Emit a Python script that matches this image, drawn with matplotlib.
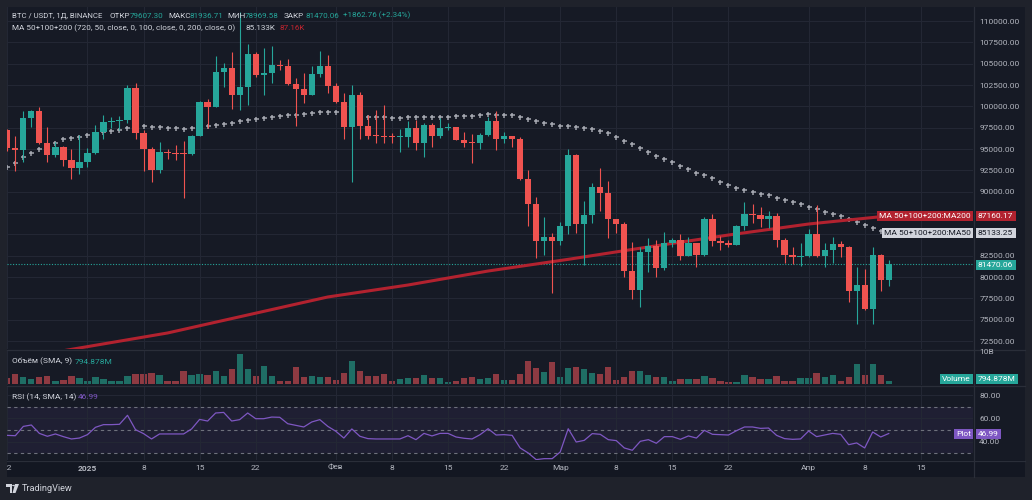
import numpy as np
import matplotlib
matplotlib.use("Agg")
import matplotlib.pyplot as plt
from matplotlib.lines import Line2D
from matplotlib.patches import Rectangle, Polygon, Circle
from matplotlib.transforms import Bbox

plt.rcParams['font.family'] = ['Roboto', 'DejaVu Sans']

W, H = 1032, 500

# ---- data (daily, 22 Dec 2024 .. 11 Apr 2025) ----
opens = [97227, 95156, 94844, 98594, 99453, 95743, 94297, 95273, 93711, 92735,
         93516, 94532, 96953, 98164, 98250, 98360, 102187, 96914, 95000, 92540,
         94688, 94532, 94450, 94380, 96563, 100508, 99961, 104063, 104531, 101289,
         102266, 106172, 103672, 103946, 104844, 104766, 102578, 102031, 101289, 103750,
         104727, 102422, 100547, 97618, 101329, 97735, 96563, 96485, 96407, 96368,
         96446, 97423, 95743, 97853, 96563, 97462, 97579, 96056, 95743, 95665,
         96642, 98282, 96133, 96524, 96172, 91485, 88594, 84181, 84688, 84259,
         86017, 94258, 86173, 87228, 90547, 89883, 86759, 86173, 80665, 78517,
         82892, 83673, 81017, 83946, 84298, 82501, 83946, 82618, 86798, 84181,
         84025, 83790, 86017, 87423, 87267, 86837, 87150, 84337, 82618, 82384,
         82501, 85079, 82461, 83164, 83828, 83477, 78360, 79063, 76212, 82579,
         79607.30]
highs = [97400, 96524, 99453, 99570, 99961, 97539, 95860, 95300, 94999, 96641,
         95156, 97813, 98985, 98711, 98867, 102461, 102695, 97227, 95273, 95820,
         95000, 95469, 95938, 96641, 100625, 100820, 105898, 105039, 106406, 111000,
         107266, 106406, 106875, 107109, 105430, 105508, 103281, 103867, 104727, 106484,
         106016, 102696, 101524, 102501, 101719, 98985, 99571, 100157, 96915, 97306,
         98282, 98399, 98009, 98009, 98595, 98009, 97618, 97032, 96759, 96915,
         98790, 99453, 96953, 96524, 96445, 92540, 89415, 87071, 85118, 86485,
         94961, 94415, 88907, 90977, 92735, 91251, 86798, 86446, 84063, 83556,
         84532, 84298, 85274, 84610, 85040, 84727, 84025, 86993, 87384, 84806,
         84337, 86134, 88751, 88516, 88243, 87735, 87462, 84571, 83556, 83946,
         85587, 88438, 83945, 84649, 84219, 83633, 81211, 80899, 83555, 82696,
         81936.71]
lows = [94800, 92461, 93516, 97617, 95586, 93516, 94102, 93008, 91524, 92032,
        92891, 94375, 96133, 97500, 97227, 98008, 96211, 92461, 91172, 92227,
        93829, 93712, 89220, 94300, 96563, 97422, 99961, 102305, 99649, 99570,
        100156, 103399, 101289, 102774, 104258, 102500, 97735, 100352, 101289, 103399,
        101602, 100352, 96134, 91173, 96134, 96173, 95665, 95665, 95665, 94689,
        95274, 94884, 94103, 95196, 96251, 97227, 96056, 95196, 93400, 95001,
        96524, 94883, 95742, 95274, 91368, 85977, 82228, 82618, 78165, 83751,
        85001, 85118, 81407, 86290, 87774, 84610, 85196, 79962, 77423, 76524,
        80626, 79962, 80821, 83556, 81993, 82462, 81134, 82501, 83673, 83165,
        83556, 83712, 85509, 86290, 85899, 85743, 83556, 81603, 81525, 81290,
        82384, 82305, 81211, 81602, 82305, 77110, 74454, 76100, 74493, 78399,
        78969.58]
closes = [95156, 94844, 98594, 99453, 95743, 94297, 95273, 93711, 92735, 93516,
          94532, 96953, 98164, 98250, 98360, 102187, 96914, 95000, 92540, 94688,
          94532, 94450, 94380, 96563, 100508, 99961, 104063, 104531, 101289, 102266,
          106172, 103672, 103946, 104844, 104766, 102578, 102031, 101289, 103750, 104727,
          102422, 100547, 97618, 101329, 97735, 96563, 96485, 96407, 96368, 96446,
          97423, 95743, 97853, 96563, 97462, 97579, 96056, 95743, 95665, 96642,
          98282, 96133, 96524, 96172, 91485, 88594, 84181, 84688, 84259, 86017,
          94258, 86173, 87228, 90547, 89883, 86759, 86173, 80665, 78517, 82892,
          83673, 81017, 83946, 84298, 82501, 83946, 82618, 86798, 84181, 84025,
          83790, 86017, 87423, 87267, 86837, 87150, 84337, 82618, 82384, 82501,
          85079, 82461, 83164, 83828, 83477, 78360, 79063, 76212, 82579, 79607.30,
          81470.06]

# volume, billions USDT
volume = [1.51, 2.57, 1.93, 1.25, 1.78, 2.20, 0.80, 1.14, 2.20, 1.59,
          0.80, 1.78, 1.33, 0.80, 0.80, 2.12, 2.65, 2.65, 2.84, 2.46,
          0.72, 0.80, 3.45, 2.31, 2.57, 2.31, 3.45, 2.12, 3.90, 7.95,
          4.05, 2.04, 4.77, 2.04, 0.87, 0.87, 4.43, 1.86, 2.04, 1.78,
          1.93, 1.14, 2.99, 6.17, 3.45, 2.20, 2.04, 2.65, 0.87, 1.25,
          1.67, 1.59, 2.39, 1.59, 1.51, 0.61, 0.80, 1.51, 1.93, 1.40,
          1.51, 2.73, 0.98, 0.98, 2.57, 6.10, 4.24, 3.18, 5.83, 1.86,
          4.24, 4.58, 4.05, 2.92, 2.65, 4.43, 0.98, 1.86, 3.37, 3.45,
          2.31, 1.93, 1.93, 0.80, 1.33, 1.33, 1.33, 2.12, 1.67, 0.87,
          0.53, 0.61, 2.31, 1.78, 1.40, 1.33, 2.04, 0.87, 0.80, 1.51,
          1.51, 2.99, 1.93, 2.39, 0.80, 1.93, 5.30, 2.39, 5.22, 2.31,
          0.795]

rsi = [45.4, 45.1, 53.1, 54.3, 47.1, 44.6, 46.6, 44.3, 42.3, 43.1,
       46.0, 52.3, 54.6, 54.6, 54.9, 62.6, 50.3, 46.9, 42.3, 46.6,
       46.6, 46.6, 46.6, 50.9, 59.1, 57.7, 64.6, 65.1, 57.7, 58.9,
       64.6, 59.7, 59.7, 61.1, 60.9, 55.4, 54.0, 52.6, 56.9, 58.9,
       53.1, 48.9, 43.1, 50.9, 44.6, 42.6, 42.3, 42.3, 42.3, 42.3,
       45.1, 41.7, 47.1, 44.9, 47.1, 47.1, 44.0, 42.9, 42.3, 46.0,
       51.1, 45.7, 46.0, 45.4, 34.6, 30.3, 24.6, 25.4, 25.4, 31.1,
       51.1, 39.7, 41.1, 46.9, 46.3, 41.7, 40.9, 34.6, 32.6, 40.3,
       41.7, 38.6, 44.3, 44.3, 42.0, 44.9, 43.1, 49.7, 46.3, 46.0,
       45.7, 49.4, 52.6, 52.6, 51.4, 51.7, 45.4, 42.6, 42.0, 42.3,
       49.1, 44.3, 45.7, 47.1, 46.3, 37.4, 38.9, 34.6, 48.3, 44.0,
       46.99]

ma50 = [92930, 93399, 94024, 94571, 95039, 95400, 95742, 96133, 96328, 96445,
        96602, 96800, 96950, 97110, 97227, 97500, 97600, 97695, 97617, 97539,
        97500, 97422, 97383, 97461, 97580, 97696, 97813, 97969, 98086, 98243,
        98438, 98555, 98672, 98750, 98868, 98985, 99024, 99063, 99180, 99297,
        99336, 99297, 99200, 99100, 98950, 98790, 98751, 98712, 98673, 98673,
        98712, 98751, 98712, 98712, 98751, 98790, 98829, 98868, 98907, 98985,
        99050, 98984, 98984, 98945, 98789, 98516, 98281, 98086, 97891, 97734,
        97734, 97617, 97422, 97305, 97110, 96836, 96445, 95977, 95547, 95156,
        94688, 94219, 93828, 93438, 93008, 92618, 92227, 91915, 91563, 91173,
        90782, 90469, 90196, 90001, 89727, 89571, 89298, 89063, 88790, 88516,
        88243, 87969, 87656, 87422, 87148, 86758, 86406, 86094, 85781, 85430,
        85133.25]

ma200_idx = [7, 20, 30, 40, 50, 60, 70, 80, 90, 100, 110]
ma200 = [71360, 73440, 75550, 77660, 79060, 80700, 82070, 83520, 84920, 86210, 87160.17]

date_ticks = [0, 10, 17, 24, 31, 41, 48, 55, 62, 69, 76, 83, 90, 100, 107, 114]
date_labels = ['22', '2025', '8', '15', '22', 'Фев', '8', '15', '22', 'Мар',
               '8', '15', '22', 'Апр', '8', '15']
price_ticks = np.arange(72500, 110001, 2500)
hidden_ticks = (85000, 87500)  # covered by the MA tags on the axis

# ---- colours ----
BG = '#161a25'
FRAME = '#1f222b'
GRID = '#232734'
SEP = '#2a2e39'
TXT = '#b2b5be'
HEAD = '#d1d4dc'
UP = '#26a69a'
DN = '#ef5350'
UP_VOL = '#1f6e65'
DN_VOL = '#8e3a42'
MA200_C = '#b2222f'
MA50_C = '#a3a6af'
RSI_C = '#7e57c2'


def rect(x0, y0, x1, y1):
    return [x0 / W, 1 - y1 / H, (x1 - x0) / W, (y1 - y0) / H]


fig = plt.figure(figsize=(W / 100, H / 100), dpi=100, facecolor=FRAME)

# chart background (panes + axes areas)
fig.add_artist(Rectangle((7 / W, 1 - 477 / H), (1025 - 7) / W, (477 - 7) / H,
                         transform=fig.transFigure, facecolor=BG, edgecolor='none', zorder=0))
fig.add_artist(Rectangle((7 / W, 1 - 477 / H), (1025 - 7) / W, (477 - 460) / H,
                         transform=fig.transFigure, facecolor='#131722', edgecolor='none', zorder=0))

PX0, PX1 = 7, 973
MAIN_BOT = 349
VOL_BOT = 385
ax = fig.add_axes(rect(PX0, 7, PX1, MAIN_BOT))
axv = fig.add_axes(rect(PX0, MAIN_BOT + 1, PX1, VOL_BOT), sharex=ax)
axr = fig.add_axes(rect(PX0, VOL_BOT + 1, PX1, 460), sharex=ax)

ppx = 37500 / 320.0  # price per pixel
for a in (ax, axv, axr):
    a.set_facecolor('none')
    for s in a.spines.values():
        s.set_visible(False)
    a.set_xticks(date_ticks)
    a.grid(True, axis='x', color=GRID, lw=0.8)
    a.tick_params(axis='both', length=0, colors=TXT, labelsize=6)

x_left = (PX0 - 7.3) / 8.013
x_right = (PX1 - 7.3) / 8.013
ax.set_xlim(x_left, x_right)
ax.set_ylim(72500 - (MAIN_BOT - 341) * ppx, 110000 + 14 * ppx)

idx = np.arange(len(closes))
o = np.array(opens, float)
c = np.array(closes, float)
hi = np.array(highs, float)
lo = np.array(lows, float)
up = c >= o
cols = np.where(up, UP, DN)

# main pane
ax.set_yticks(price_ticks)
ax.set_yticklabels(['' if p in hidden_ticks else f'{p:.2f}' for p in price_ticks])
ax.yaxis.tick_right()
ax.tick_params(axis='y', pad=4.5)
ax.tick_params(axis='x', labelbottom=False)
ax.grid(True, axis='y', color=GRID, lw=0.8)

ax.plot(idx, ma50, ls='none', marker='+', ms=3.6, mew=1.1, color=MA50_C, zorder=2)
ax.plot(ma200_idx, ma200, color=MA200_C, lw=2.2, solid_capstyle='butt', zorder=2.5)
ax.axhline(closes[-1], color=UP, lw=0.8, ls=(0, (1, 1.5)), zorder=2)
ax.vlines(idx, lo, hi, colors=cols, lw=0.8, zorder=3)
ax.bar(idx, np.maximum(np.abs(c - o), ppx), bottom=np.minimum(o, c), width=0.78,
       color=cols, edgecolor='none', zorder=4)

# volume pane
vpx = 0.265
axv.bar(idx, volume, width=0.78, color=np.where(up, UP_VOL, DN_VOL), edgecolor='none')
axv.set_ylim(-1 * vpx, (384 - MAIN_BOT - 1) * vpx)
axv.set_yticks([])
axv.tick_params(axis='x', labelbottom=False)

# RSI pane
axr.set_ylim(50 - 30 / 1.165, 50 + (430 - VOL_BOT - 1) / 1.165)
axr.axhspan(30, 70, color=RSI_C, alpha=0.09, lw=0)
for lvl in (70, 50, 30):
    axr.axhline(lvl, color='#6e717c', lw=0.8, ls=(0, (3, 3)))
axr.set_yticks([40, 60, 80])
axr.set_yticklabels(['40.00', '60.00', '80.00'])
axr.yaxis.tick_right()
axr.tick_params(axis='y', pad=4.5)
axr.grid(True, axis='y', color=GRID, lw=0.8)
axr.plot(idx, rsi, color=RSI_C, lw=0.9)
axr.set_xticklabels(date_labels)
axr.tick_params(axis='x', pad=3.5, labelsize=6)
clip = Bbox.from_extents(7, 0, 1025, H)
for lab in axr.get_xticklabels():
    if lab.get_text() == '2025':
        lab.set_fontweight('bold')
    lab.set_clip_box(clip)
    lab.set_clip_on(True)


# separators
def hline(y, x0=7, x1=1025, color=SEP):
    fig.add_artist(Line2D([x0 / W, x1 / W], [1 - y / H, 1 - y / H],
                          transform=fig.transFigure, color=color, lw=0.9))


def vline(x, y0=7, y1=477, color=SEP):
    fig.add_artist(Line2D([x / W, x / W], [1 - y0 / H, 1 - y1 / H],
                          transform=fig.transFigure, color=color, lw=0.9))


hline(MAIN_BOT + 0.5)
hline(VOL_BOT + 0.5)
hline(460.5)
vline(973.5)


def ftext(x, y, s, **kw):
    kw.setdefault('fontsize', 6.0)
    kw.setdefault('color', TXT)
    kw.setdefault('va', 'center')
    return fig.text(x / W, 1 - y / H, s, **kw)


# header, x positions
ftext(12, 15.5, 'BTC / USDT, 1Д, BINANCE', color=HEAD, fontsize=5.6)
for x, s, col in [(109, 'ОТКР', HEAD), (130, '79607.30', UP),
                  (168, 'МАКС', HEAD), (190, '81936.71', UP),
                  (227, 'МИН', HEAD), (245, '78969.58', UP),
                  (284, 'ЗАКР', HEAD), (305, '81470.06', UP),
                  (343, '+1862.76 (+2.34%)', UP)]:
    ftext(x, 15.5, s, color=col, fontsize=5.8)
ftext(12, 28, 'MA 50+100+200 (720, 50, close, 0, 100, close, 0, 200, close, 0)',
      color=HEAD, fontsize=5.9)
ftext(245, 28, '85.133K', color=HEAD, fontsize=5.9)
ftext(280, 28, '87.16K', color='#c2242f', fontsize=5.9)

ftext(12, 361.5, 'Объём (SMA, 9)', color=HEAD)
ftext(75, 361.5, '794.878M', color=UP)
ftext(12, 397, 'RSI (14, SMA, 14)', color=HEAD)
ftext(78, 397, '46.99', color=RSI_C)

ftext(979, 352, '10B')


def tag(x, y, s, fc, tc='white', ha='left'):
    ftext(x, y, s, color=tc, ha=ha,
          bbox=dict(boxstyle='square,pad=0.28', fc=fc, ec='none'))


tag(978, 216, '87160.17', MA200_C)
tag(971, 216, 'MA 50+100+200:MA200', MA200_C, ha='right')
tag(978, 233, '85133.25', '#d1d4dc', tc='#131722')
tag(971, 233, 'MA 50+100+200:MA50', '#d1d4dc', tc='#131722', ha='right')
tag(978, 265, '81470.06', UP)
tag(978, 379, '794.878M', UP)
tag(971, 379, 'Volume', UP, ha='right')
tag(978, 434, '46.99', RSI_C)
tag(971, 434, 'Plot', RSI_C, ha='right')

# TradingView mark
lc = '#d1d4dc'
fig.add_artist(Polygon([(6 / W, 1 - 484 / H), (12 / W, 1 - 484 / H), (12 / W, 1 - 493 / H),
                        (9.5 / W, 1 - 493 / H), (9.5 / W, 1 - 487 / H), (6 / W, 1 - 487 / H)],
                       closed=True, transform=fig.transFigure, fc=lc, ec='none'))
fig.add_artist(Polygon([(15 / W, 1 - 484 / H), (19 / W, 1 - 484 / H), (15.5 / W, 1 - 493 / H),
                        (12.5 / W, 1 - 493 / H)],
                       closed=True, transform=fig.transFigure, fc=lc, ec='none'))
fig.add_artist(Circle((13.5 / W, 1 - 485.5 / H), 1.4 / W, transform=fig.transFigure,
                      fc=lc, ec='none'))
ftext(22, 488.5, 'TradingView', fontsize=6.6, color=lc)

fig.savefig('out.png', dpi=100, facecolor=FRAME)
